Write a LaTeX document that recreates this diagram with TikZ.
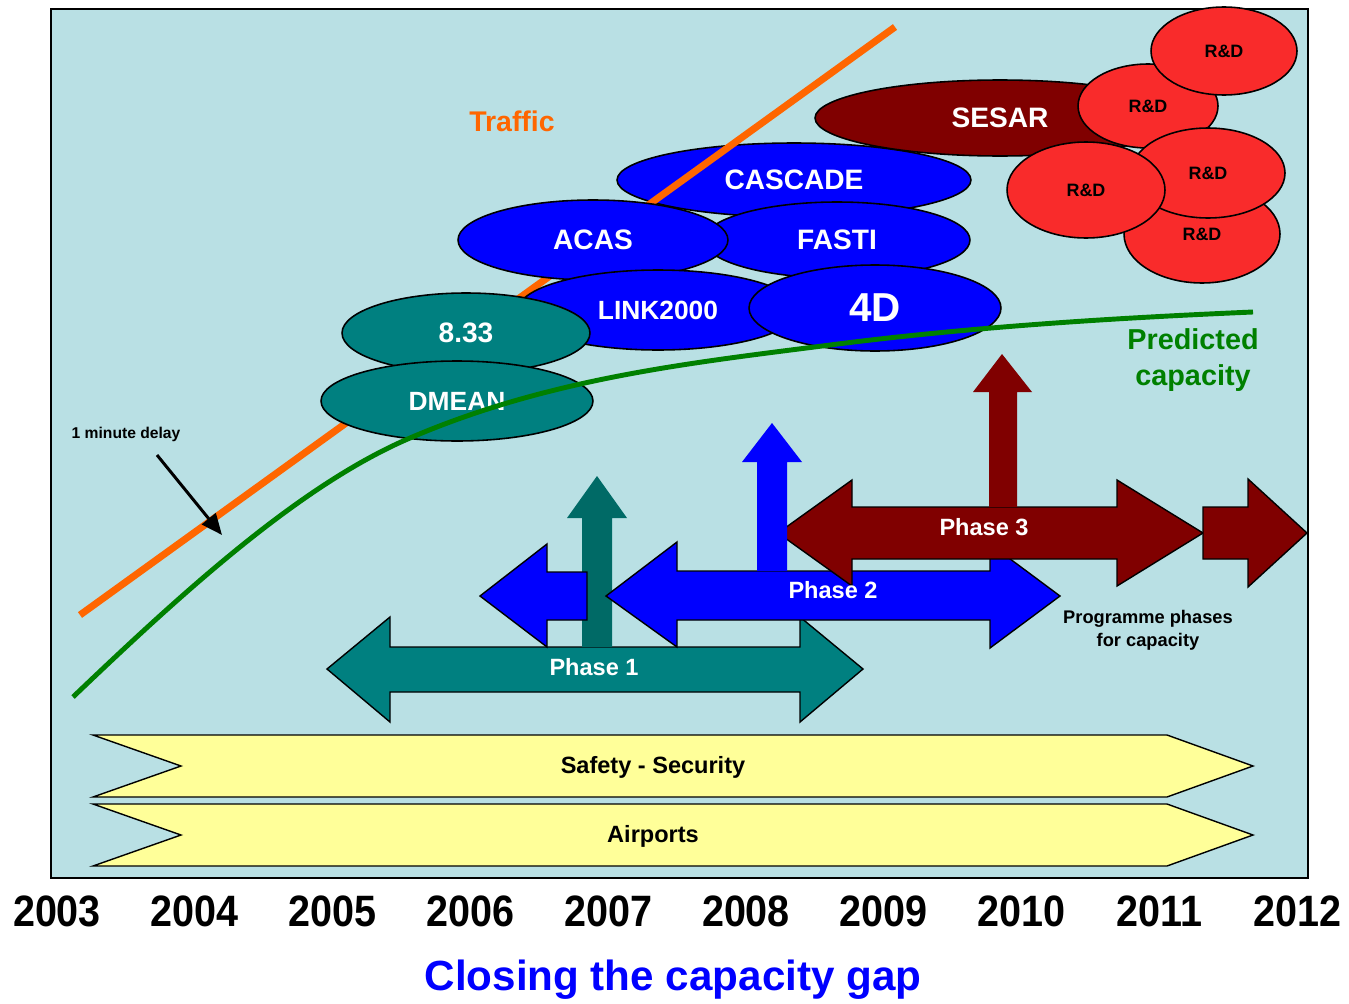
\documentclass[tikz,border=0pt]{standalone}
\usepackage{fontspec}
\setmainfont{Liberation Sans}
\usetikzlibrary{shapes.geometric,arrows.meta}

\definecolor{skybg}{HTML}{B9E0E4}
\definecolor{tealfill}{HTML}{008080}
\definecolor{tealdark}{HTML}{006A66}
\definecolor{progblue}{HTML}{0000FF}
\definecolor{maroon}{HTML}{800000}
\definecolor{rdred}{HTML}{F92B2B}
\definecolor{trafficorange}{HTML}{FF6600}
\definecolor{capgreen}{HTML}{008000}
\definecolor{bandyellow}{HTML}{FFFF99}

\tikzset{
  oval/.style={ellipse, draw=black, line width=0.9pt, inner sep=0pt,
    text=white, font=\bfseries\fontsize{16}{18}\selectfont},
  blueoval/.style={oval, fill=progblue},
  tealoval/.style={oval, fill=tealfill},
  rdoval/.style={oval, fill=rdred, text=black,
    font=\bfseries\fontsize{10.2}{12}\selectfont},
  phasearrow/.style={draw=black, line width=0.8pt},
  phaselabel/.style={text=white, font=\bfseries\fontsize{13.4}{15}\selectfont},
  band/.style={draw=black, fill=bandyellow, line width=0.8pt},
  bandlabel/.style={font=\bfseries\fontsize{13.4}{15}\selectfont},
  yearlabel/.style={font=\bfseries\fontsize{25}{28}\selectfont, xscale=0.9}
}

\begin{document}
\begin{tikzpicture}[x=0.02cm, y=-0.02cm]
  \useasboundingbox (0,0) rectangle (1349,1004);
  % chart area
  \draw[fill=skybg, line width=1.1pt] (51,9) rectangle (1308,878);

  % programmes, traffic passes over CASCADE only
  \node[blueoval, minimum width=7.08cm, minimum height=1.48cm] (cascade) at (794,180) {CASCADE};
  \draw[trafficorange, line width=4pt] (80,615) -- (895,27);
  \node[blueoval, minimum width=5.32cm, minimum height=1.52cm] (fasti) at (837,240) {FASTI};
  \node[blueoval, minimum width=5.4cm, minimum height=1.6cm] (acas) at (593,240) {ACAS};
  \node[blueoval, minimum width=5.6cm, minimum height=1.6cm,
    font=\bfseries\fontsize{15}{17}\selectfont] (link) at (658,310) {LINK2000};
  \node[blueoval, minimum width=5.04cm, minimum height=1.72cm,
    font=\bfseries\fontsize{23}{26}\selectfont] (fourd) at (875,308) {4D};
  \node[tealoval, minimum width=4.96cm, minimum height=1.6cm] (eight) at (466,333) {8.33};
  \node[tealoval, minimum width=5.44cm, minimum height=1.6cm,
    font=\bfseries\fontsize{15}{17}\selectfont] (dmean) at (457,401) {DMEAN};

  % SESAR and research
  \node[oval, fill=maroon, minimum width=7.4cm, minimum height=1.52cm] (sesar) at (1000,118) {SESAR};
  \node[rdoval, minimum width=2.8cm, minimum height=1.68cm] (rd2) at (1148,106) {R\&D};
  \node[rdoval, minimum width=2.92cm, minimum height=1.76cm] (rd1) at (1224,51) {R\&D};
  \node[rdoval, minimum width=3.12cm, minimum height=1.96cm] (rd5) at (1202,234) {R\&D};
  \node[rdoval, minimum width=3.08cm, minimum height=1.8cm] (rd4) at (1208,173) {R\&D};
  \node[rdoval, minimum width=3.16cm, minimum height=1.92cm] (rd3) at (1086,190) {R\&D};

  % predicted capacity
  \draw[capgreen, line width=2.8pt] (73,697) .. controls (183,592) and (300,485) .. (410,438)
    .. controls (550,378) and (690,363) .. (830,345)
    .. controls (970,327) and (1113,318) .. (1253,312);

  % phases
  \draw[phasearrow, fill=tealfill] (327,669) -- (390,617) -- (390,647) -- (800,647)
    -- (800,617) -- (863,669) -- (800,722) -- (800,692) -- (390,692) -- (390,722) -- cycle;
  \fill[tealdark] (582,647) -- (582,518) -- (567,518) -- (597,476) -- (627,518)
    -- (612,518) -- (612,647) -- cycle;
  \draw[phasearrow, fill=progblue] (480,596) -- (547,544) -- (547,572) -- (587,572)
    -- (587,620) -- (547,620) -- (547,647) -- cycle;
  \draw[phasearrow, fill=progblue] (606,596) -- (677,542) -- (677,571) -- (990,571)
    -- (990,544) -- (1060,596) -- (990,648) -- (990,620) -- (677,620) -- (677,647) -- cycle;
  \draw[phasearrow, fill=maroon] (778,533) -- (852,480) -- (852,507) -- (1117,507)
    -- (1117,480) -- (1203,533) -- (1117,586) -- (1117,559) -- (852,559) -- (852,586) -- cycle;
  \draw[phasearrow, fill=maroon] (1203,507) -- (1248,507) -- (1248,479) -- (1307,533)
    -- (1248,587) -- (1248,559) -- (1203,559) -- cycle;
  \fill[progblue] (757,571) -- (757,462) -- (742,462) -- (772,423) -- (802,462)
    -- (787,462) -- (787,571) -- cycle;
  \fill[maroon] (989,507) -- (989,392) -- (973,392) -- (1002,354) -- (1032,392)
    -- (1017,392) -- (1017,507) -- cycle;
  \node[phaselabel] (phaseone) at (594,667) {Phase 1};
  \node[phaselabel] (phasetwo) at (833,590) {Phase 2};
  \node[phaselabel] (phasethree) at (984,527) {Phase 3};

  % cross-cutting bands
  \draw[band] (93,735) -- (1167,735) -- (1253,766) -- (1167,797) -- (93,797) -- (181,766) -- cycle;
  \draw[band] (93,804) -- (1167,804) -- (1253,835) -- (1167,866) -- (93,866) -- (181,835) -- cycle;
  \node[bandlabel] (safety) at (653,767) {Safety - Security};
  \node[bandlabel] (airports) at (653,836) {Airports};

  % labels
  \node[text=trafficorange, font=\bfseries\fontsize{16.2}{18}\selectfont] (traffic) at (512,121) {Traffic};
  \node[text=capgreen, align=center, font=\bfseries\fontsize{16.4}{20.4}\selectfont] (capacity)
    at (1193,360) {Predicted\\capacity};
  \node[align=center, font=\bfseries\fontsize{10.4}{13}\selectfont] (phases)
    at (1148,630) {Programme phases\\for capacity};
  \node[font=\bfseries\fontsize{8.9}{10}\selectfont] (delay) at (126,434) {1 minute delay};
  \coordinate (delaytail) at (157,455);
  \coordinate (delaytip) at (222,535);
  \draw[line width=1.7pt, -{Triangle[length=12pt, width=10pt]}] (delaytail) -- (delaytip);

  % time axis
  \foreach \yr [count=\i from 0] in {2003,2004,2005,2006,2007,2008,2009,2010,2011,2012}
    \node[yearlabel] (yr\yr) at ({57+137.8*\i},911) {\yr};
  \node[text=progblue, font=\bfseries\fontsize{24}{28}\selectfont] (title) at (673,980)
    {Closing the capacity gap};
\end{tikzpicture}
\end{document}
